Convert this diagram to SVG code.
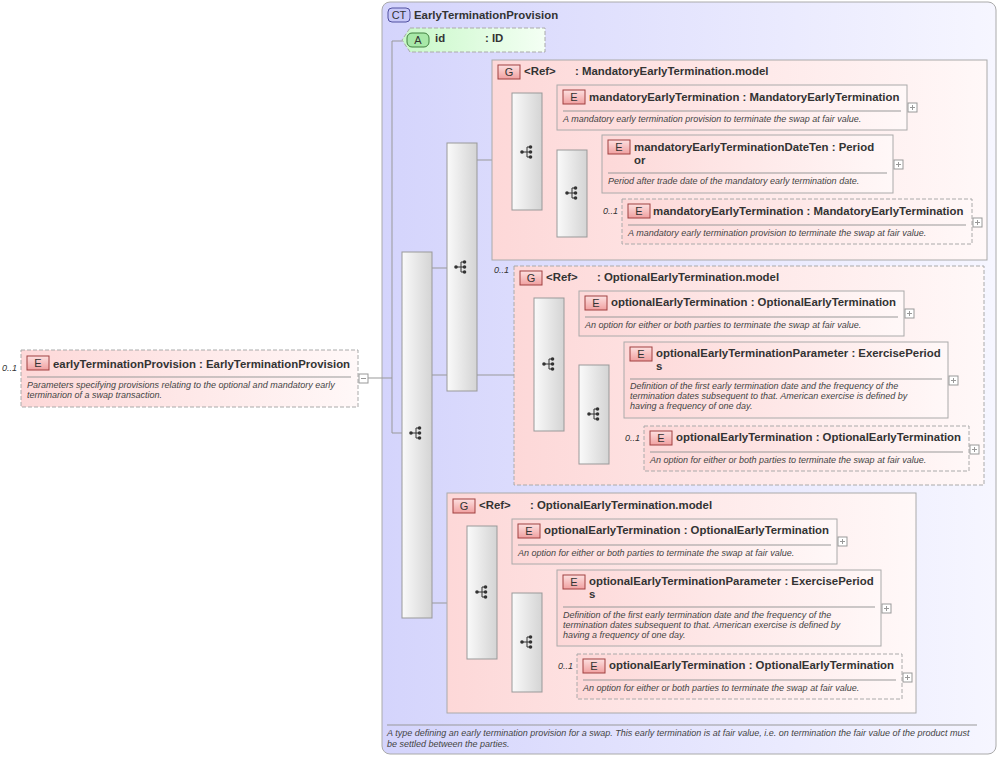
<svg xmlns="http://www.w3.org/2000/svg" width="1001" height="758" viewBox="0 0 1001 758">
<defs>
<linearGradient id="ct" x1="0" x2="1" y1="0" y2="0"><stop offset="0" stop-color="#d4d4fc"/><stop offset="1" stop-color="#f6f6ff"/></linearGradient>
<linearGradient id="pk" x1="0" x2="1" y1="0" y2="0"><stop offset="0" stop-color="#fdd8d8"/><stop offset="1" stop-color="#fff8f8"/></linearGradient>
<linearGradient id="gn" x1="0" x2="1" y1="0" y2="0"><stop offset="0" stop-color="#c8f8c8"/><stop offset="1" stop-color="#f4fff4"/></linearGradient>
<linearGradient id="sq" x1="0" x2="1" y1="0" y2="0"><stop offset="0" stop-color="#fafafa"/><stop offset="1" stop-color="#d4d4d4"/></linearGradient>
<linearGradient id="bd" x1="0" x2="0" y1="0" y2="1"><stop offset="0" stop-color="#fde0e0"/><stop offset="1" stop-color="#f0a0a0"/></linearGradient>
<g id="ic"><circle cx="-5" cy="0" r="1.8" fill="#333"/><path d="M-5 0H0M0 -5V5M0 -5H3M0 0H3M0 5H3" stroke="#333" fill="none"/><circle cx="3.5" cy="-5" r="1.8" fill="#333"/><circle cx="3.5" cy="0" r="1.8" fill="#333"/><circle cx="3.5" cy="5" r="1.8" fill="#333"/></g>
<g id="pl"><rect x="0" y="0" width="9" height="9" fill="#fff" stroke="#999"/><path d="M2 4.5H7M4.5 2V7" stroke="#999"/></g>
</defs>
<style>
text{font-family:"Liberation Sans",Arial,sans-serif;fill:#333;white-space:pre}
.n{font-size:11.4px;font-weight:bold}
.d{font-size:9px;font-style:italic;fill:#444}
.o{font-size:9px;font-style:italic;fill:#333}
.b{font-size:11px;fill:#333}
.e{fill:url(#pk);stroke:#aaa}
.ed{fill:url(#pk);stroke:#aaa;stroke-dasharray:4 2}
.bg{fill:url(#bd);stroke:#a04040}
.s{fill:url(#sq);stroke:#999}
.sep{stroke:#999}
.c{stroke:#999;fill:none}
</style>
<g id="ct">
<rect x="382" y="2" width="614" height="752" rx="8" fill="url(#ct)" stroke="#aaa"/>
<rect x="388" y="8" width="22" height="14" rx="4" fill="#c8c8f8" stroke="#5050a0"/><text x="399" y="19" class="b" text-anchor="middle">CT</text>
<text x="414" y="19" class="n">EarlyTerminationProvision</text>
<line x1="387" y1="725" x2="977" y2="725" class="sep"/>
<text x="387" y="736" class="d">A type defining an early termination provision for a swap. This early termination is at fair value, i.e. on termination the fair value of the product must</text>
<text x="387" y="747" class="d">be settled between the parties.</text>
</g>
<g id="connectors">
<path class="c" d="M368 378H392M392 41V433M392 41H402M392 433H402M432 268H447M432 375H514M432 603H447M477 160H492M542 105H557M542 193H557M587 160H602M587 225H622M564 310H579M564 414H579M609 375H624M609 448H644M497 538H512M497 642H512M542 603H557M542 676H577"/>
</g>
<g id="left">
<text x="2" y="371" class="o">0..1</text>
<rect x="21" y="350" width="337" height="57" class="ed"/>
<rect x="27" y="356" width="22" height="14" class="bg"/><text x="38" y="367" class="b" text-anchor="middle">E</text>
<text x="53" y="368" class="n">earlyTerminationProvision : EarlyTerminationProvision</text>
<line x1="27" y1="377" x2="351" y2="377" class="sep"/>
<text x="27" y="388" class="d">Parameters specifying provisions relating to the optional and mandatory early</text>
<text x="27" y="398" class="d">terminarion of a swap transaction.</text>
<rect x="359" y="374" width="9" height="9" fill="#fff" stroke="#999"/><path d="M361 378.5H366" stroke="#999"/>
</g>
<g id="attr">
<path d="M410 28H545V52H410L402 40Z" fill="url(#gn)" stroke="#aaa" stroke-dasharray="4 2"/>
<rect x="407" y="33" width="22" height="14" rx="5" fill="#a8e8a8" stroke="#408040"/><text x="418" y="44" class="b" text-anchor="middle">A</text>
<text x="435" y="42" class="n">id</text><text x="485" y="42" class="n">: ID</text>
</g>
<g id="seq0"><rect x="402" y="252" width="30" height="366" class="s"/><use href="#ic" x="416" y="433"/></g>
<g id="seq1"><rect x="447" y="143" width="30" height="248" class="s"/><use href="#ic" x="461" y="267"/></g>
<g id="g1">
<rect x="492" y="60" width="495" height="200" class="e"/>
<rect x="498" y="65" width="22" height="14" class="bg"/><text x="509" y="76" class="b" text-anchor="middle">G</text>
<text x="524" y="75" class="n">&lt;Ref&gt;</text><text x="575" y="75" class="n">: MandatoryEarlyTermination.model</text>
<rect x="512" y="93" width="30" height="117" class="s"/><use href="#ic" x="527" y="152"/>
<rect x="557" y="150" width="30" height="87" class="s"/><use href="#ic" x="572" y="193"/>
</g>
<g id="e1">
<rect x="557" y="85" width="350" height="45" class="e"/>
<rect x="563" y="90" width="22" height="14" class="bg"/><text x="574" y="101" class="b" text-anchor="middle">E</text>
<text x="589" y="101" class="n">mandatoryEarlyTermination : MandatoryEarlyTermination</text>
<line x1="563" y1="111" x2="901" y2="111" class="sep"/>
<text x="563" y="122" class="d">A mandatory early termination provision to terminate the swap at fair value.</text>
<use href="#pl" x="908" y="103"/>
</g>
<g id="e2">
<rect x="602" y="135" width="291" height="58" class="e"/>
<rect x="608" y="140" width="22" height="14" class="bg"/><text x="619" y="151" class="b" text-anchor="middle">E</text>
<text x="634" y="151" class="n">mandatoryEarlyTerminationDateTen : Period</text>
<text x="634" y="164" class="n">or</text>
<line x1="608" y1="173" x2="887" y2="173" class="sep"/>
<text x="608" y="184" class="d">Period after trade date of the mandatory early termination date.</text>
<use href="#pl" x="894" y="160"/>
</g>
<g id="e3">
<text x="603" y="214" class="o">0..1</text>
<rect x="622" y="199" width="350" height="45" class="ed"/>
<rect x="628" y="204" width="22" height="14" class="bg"/><text x="639" y="215" class="b" text-anchor="middle">E</text>
<text x="653" y="215" class="n">mandatoryEarlyTermination : MandatoryEarlyTermination</text>
<line x1="628" y1="225" x2="966" y2="225" class="sep"/>
<text x="628" y="236" class="d">A mandatory early termination provision to terminate the swap at fair value.</text>
<use href="#pl" x="973" y="218"/>
</g>
<g id="g2">
<text x="494" y="273" class="o">0..1</text>
<rect x="514" y="266" width="470" height="219" class="ed"/>
<rect x="520" y="271" width="22" height="14" class="bg"/><text x="531" y="282" class="b" text-anchor="middle">G</text>
<text x="546" y="281" class="n">&lt;Ref&gt;</text><text x="597" y="281" class="n">: OptionalEarlyTermination.model</text>
<rect x="534" y="298" width="30" height="133" class="s"/><use href="#ic" x="549" y="364"/>
<rect x="579" y="365" width="30" height="99" class="s"/><use href="#ic" x="594" y="414"/>
</g>
<g id="e4">
<rect x="579" y="291" width="325" height="45" class="e"/>
<rect x="585" y="296" width="22" height="14" class="bg"/><text x="596" y="307" class="b" text-anchor="middle">E</text>
<text x="611" y="306" class="n">optionalEarlyTermination : OptionalEarlyTermination</text>
<line x1="585" y1="317" x2="898" y2="317" class="sep"/>
<text x="585" y="328" class="d">An option for either or both parties to terminate the swap at fair value.</text>
<use href="#pl" x="905" y="309"/>
</g>
<g id="e5">
<rect x="624" y="342" width="324" height="76" class="e"/>
<rect x="630" y="347" width="22" height="14" class="bg"/><text x="641" y="358" class="b" text-anchor="middle">E</text>
<text x="656" y="357" class="n">optionalEarlyTerminationParameter : ExercisePeriod</text>
<text x="656" y="370" class="n">s</text>
<line x1="630" y1="379" x2="942" y2="379" class="sep"/>
<text x="630" y="389" class="d">Definition of the first early termination date and the frequency of the</text>
<text x="630" y="399" class="d">termination dates subsequent to that. American exercise is defined by</text>
<text x="630" y="409" class="d">having a frequency of one day.</text>
<use href="#pl" x="949" y="376"/>
</g>
<g id="e6">
<text x="625" y="441" class="o">0..1</text>
<rect x="644" y="426" width="325" height="45" class="ed"/>
<rect x="650" y="431" width="22" height="14" class="bg"/><text x="661" y="442" class="b" text-anchor="middle">E</text>
<text x="676" y="441" class="n">optionalEarlyTermination : OptionalEarlyTermination</text>
<line x1="650" y1="452" x2="963" y2="452" class="sep"/>
<text x="650" y="463" class="d">An option for either or both parties to terminate the swap at fair value.</text>
<use href="#pl" x="970" y="445"/>
</g>
<g id="g3">
<rect x="447" y="493" width="469" height="220" class="e"/>
<rect x="453" y="499" width="22" height="14" class="bg"/><text x="464" y="510" class="b" text-anchor="middle">G</text>
<text x="479" y="509" class="n">&lt;Ref&gt;</text><text x="530" y="509" class="n">: OptionalEarlyTermination.model</text>
<rect x="467" y="526" width="30" height="133" class="s"/><use href="#ic" x="482" y="592"/>
<rect x="512" y="593" width="30" height="99" class="s"/><use href="#ic" x="527" y="642"/>
</g>
<g id="e7">
<rect x="512" y="519" width="325" height="45" class="e"/>
<rect x="518" y="524" width="22" height="14" class="bg"/><text x="529" y="535" class="b" text-anchor="middle">E</text>
<text x="544" y="534" class="n">optionalEarlyTermination : OptionalEarlyTermination</text>
<line x1="518" y1="545" x2="831" y2="545" class="sep"/>
<text x="518" y="556" class="d">An option for either or both parties to terminate the swap at fair value.</text>
<use href="#pl" x="838" y="537"/>
</g>
<g id="e8">
<rect x="557" y="570" width="324" height="76" class="e"/>
<rect x="563" y="575" width="22" height="14" class="bg"/><text x="574" y="586" class="b" text-anchor="middle">E</text>
<text x="589" y="585" class="n">optionalEarlyTerminationParameter : ExercisePeriod</text>
<text x="589" y="598" class="n">s</text>
<line x1="563" y1="607" x2="875" y2="607" class="sep"/>
<text x="563" y="618" class="d">Definition of the first early termination date and the frequency of the</text>
<text x="563" y="628" class="d">termination dates subsequent to that. American exercise is defined by</text>
<text x="563" y="638" class="d">having a frequency of one day.</text>
<use href="#pl" x="882" y="604"/>
</g>
<g id="e9">
<text x="558" y="669" class="o">0..1</text>
<rect x="577" y="654" width="325" height="45" class="ed"/>
<rect x="583" y="659" width="22" height="14" class="bg"/><text x="594" y="670" class="b" text-anchor="middle">E</text>
<text x="609" y="669" class="n">optionalEarlyTermination : OptionalEarlyTermination</text>
<line x1="583" y1="680" x2="896" y2="680" class="sep"/>
<text x="583" y="691" class="d">An option for either or both parties to terminate the swap at fair value.</text>
<use href="#pl" x="903" y="673"/>
</g>
</svg>
